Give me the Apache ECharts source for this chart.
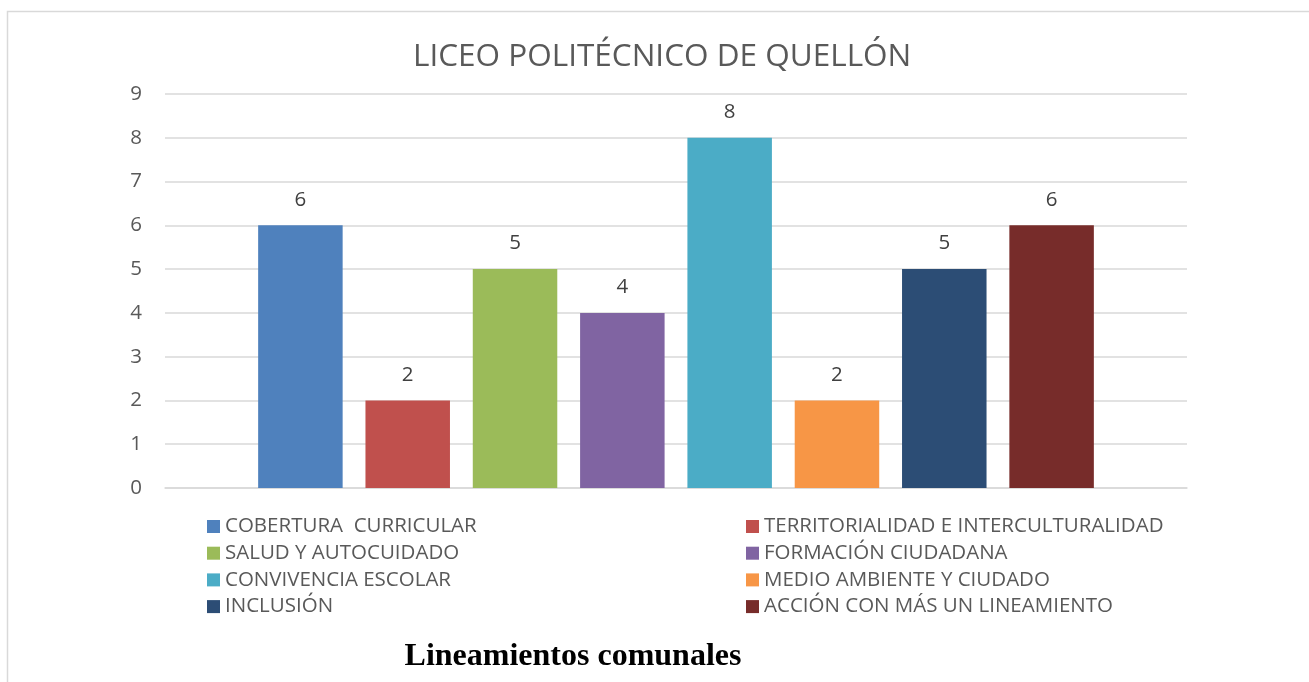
<!DOCTYPE html>
<html>
<head>
<meta charset="utf-8">
<script src="https://cdn.jsdelivr.net/npm/echarts@6/dist/echarts.min.js"></script>
<style>
  html, body { margin: 0; padding: 0; background: #fff; }
  #chart { width: 1309px; height: 682px; }
</style>
</head>
<body>
<div id="chart"></div>
<script>
const seriesNames = [
  'COBERTURA  CURRICULAR',
  'TERRITORIALIDAD E INTERCULTURALIDAD',
  'SALUD Y AUTOCUIDADO',
  'FORMACIÓN CIUDADANA',
  'CONVIVENCIA ESCOLAR',
  'MEDIO AMBIENTE Y CIUDADO',
  'INCLUSIÓN',
  'ACCIÓN CON MÁS UN LINEAMIENTO'
]
const seriesValues = [6, 2, 5, 4, 8, 2, 5, 6]
const seriesColors = ['#4f81bd', '#c0504d', '#9bbb59', '#8064a2', '#4bacc6', '#f79646', '#2c4d75', '#772c2a']
const categories = ['Lineamientos']
const yTicks = [0, 1, 2, 3, 4, 5, 6, 7, 8, 9]

const chart = echarts.init(document.getElementById('chart'))

const font = 'Open Sans'
const legendText = { fontFamily: font, fontSize: 20.5, color: '#595959', lineHeight: 21 }

const option = {
  animation: false,
  title: {
    text: 'LICEO POLITÉCNICO DE QUELLÓN',
    left: 408,
    top: 36,
    textStyle: { fontFamily: font, fontSize: 31.5, fontWeight: 'normal', color: '#595959' }
  },
  graphic: [
    {
      type: 'rect',
      shape: { x: 7.5, y: 11.5, width: 1320, height: 700 },
      style: { fill: 'none', stroke: '#d9d9d9', lineWidth: 1.5 }
    },
    {
      type: 'text',
      x: 573,
      y: 657,
      style: {
        text: 'Lineamientos comunales',
        font: 'bold 32px "Liberation Serif"',
        fill: '#000',
        align: 'center',
        verticalAlign: 'middle'
      }
    }
  ],
  legend: [
    {
      orient: 'vertical',
      left: 202,
      top: 511,
      itemWidth: 13,
      itemHeight: 13,
      itemGap: 5.7,
      icon: 'rect',
      textStyle: legendText,
      data: [seriesNames[0], seriesNames[2], seriesNames[4], seriesNames[6]]
    },
    {
      orient: 'vertical',
      left: 741,
      top: 511,
      itemWidth: 13,
      itemHeight: 13,
      itemGap: 5.7,
      icon: 'rect',
      textStyle: legendText,
      data: [seriesNames[1], seriesNames[3], seriesNames[5], seriesNames[7]]
    }
  ],
  grid: { left: 165, right: 122, top: 94, bottom: 194 },
  xAxis: {
    type: 'category',
    data: categories,
    axisLabel: { show: false },
    axisTick: { show: false },
    axisLine: { lineStyle: { color: '#d9d9d9', width: 1.5 } }
  },
  yAxis: {
    type: 'value',
    min: yTicks[0],
    max: yTicks[yTicks.length - 1],
    interval: 1,
    axisLabel: { fontFamily: font, fontSize: 20.5, color: '#595959', margin: 23 },
    axisLine: { show: false },
    axisTick: { show: false },
    splitLine: { lineStyle: { color: '#d9d9d9', width: 1.5 } }
  },
  series: seriesNames.map((name, i) => ({
    name: name,
    type: 'bar',
    data: [seriesValues[i]],
    barWidth: 84.5,
    barGap: '27%',
    itemStyle: { color: seriesColors[i] },
    label: {
      show: true,
      position: 'top',
      distance: 15,
      fontFamily: font,
      fontSize: 20.5,
      color: '#404040'
    }
  }))
}

chart.setOption(option)
</script>
</body>
</html>
